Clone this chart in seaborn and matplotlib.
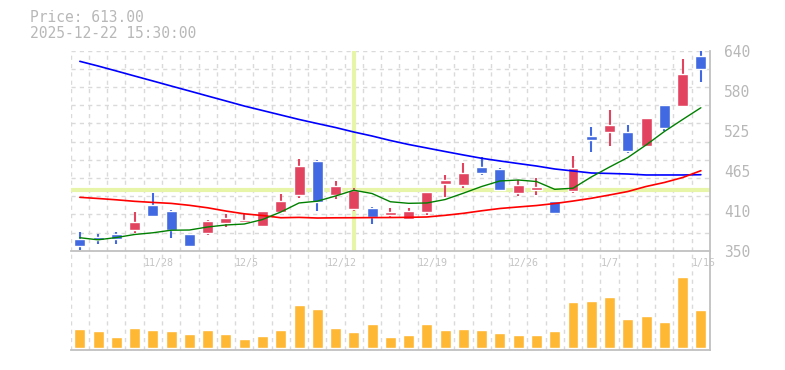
import matplotlib
matplotlib.use('Agg')
import matplotlib.pyplot as plt
import seaborn as sns
import numpy as np
import pandas as pd

# 日付（営業日）
dates = ['11/21', '11/25', '11/26', '11/27', '11/28',
         '12/1', '12/2', '12/3', '12/4', '12/5',
         '12/8', '12/9', '12/10', '12/11', '12/12',
         '12/15', '12/16', '12/17', '12/18', '12/19',
         '12/22', '12/23', '12/24', '12/25', '12/26',
         '12/29', '12/30', '1/5', '1/6', '1/7',
         '1/8', '1/9', '1/13', '1/14', '1/15']

# 四本値
open_p = [367, 370, 374, 380, 416, 407.5, 374, 376, 390, 391.5,
          386, 406, 431, 480, 431, 410.5, 412, 402, 396.5, 406,
          446.5, 445, 471.5, 468.5, 433.5, 438, 422, 436.5, 516.5, 522,
          522, 502, 561.5, 560.5, 632.5]
high_p = [377, 374, 377, 406, 434, 409, 374, 394.5, 403, 403,
          407.5, 432, 483, 481.5, 451, 441, 413.5, 412, 412, 435,
          460, 477, 486, 470, 452.5, 455.5, 422, 487, 529.5, 554,
          532.5, 542.5, 561.5, 628, 641]
low_p = [351, 360, 360, 376, 401, 369, 357, 373, 385, 390,
         384.5, 406, 426.5, 408, 425, 407.5, 389, 399, 395, 402,
         428, 441, 460, 436.5, 429, 431, 403, 433.5, 493, 502,
         491.5, 500.5, 523.5, 560.5, 595]
close_p = [357, 365.5, 367, 391.5, 401, 380.5, 357, 393, 397.5, 394.5,
           407.5, 422, 473, 421, 444, 438, 399.5, 406, 407.5, 435,
           452.5, 463, 463, 438, 445, 442.5, 404.5, 470, 511, 532.5,
           494.5, 542.5, 528, 606, 613]

# 出来高
volume = [190, 170, 110, 200, 180, 170, 140, 180, 140, 90,
          120, 180, 430, 390, 200, 160, 240, 110, 130, 240,
          180, 190, 180, 150, 130, 130, 170, 460, 470, 510,
          290, 320, 260, 710, 380]

# 移動平均線（短期・中期・長期）
ma_short = [368.8, 365.8, 369.1, 373.5, 376.0, 379.7, 380.0, 384.4, 387.3, 388.7,
            395.2, 406.1, 419.2, 421.8, 429.3, 437.7, 432.9, 421.0, 418.7, 419.2,
            424.2, 433.4, 443.1, 451.1, 452.5, 450.3, 439.0, 440.6, 456.9, 471.3,
            485.1, 503.3, 522.8, 540.2, 557.3]
ma_mid = [427.4, 425.7, 423.8, 421.6, 420.0, 418.6, 415.8, 412.2, 407.5, 403.5,
          401.0, 397.8, 398.3, 397.4, 397.7, 397.8, 398.0, 398.1, 398.4, 398.9,
          401.3, 404.2, 407.9, 411.2, 413.4, 415.5, 418.4, 422.0, 426.0, 430.8,
          435.8, 443.1, 448.9, 456.1, 466.0]
ma_long = [624.6, 617.8, 610.6, 603.3, 596.1, 588.8, 581.6, 574.3, 567.1, 559.8,
           553.3, 546.8, 540.3, 534.4, 528.6, 522.1, 516.3, 509.8, 504.0, 498.9,
           493.8, 488.8, 484.0, 480.1, 476.4, 472.8, 468.5, 465.6, 462.7, 462.0,
           461.2, 459.8, 459.8, 459.8, 460.2]

price_labels = ['350', '410', '465', '525', '580', '640']
label_days = ['11/28', '12/5', '12/12', '12/19', '12/26', '1/7', '1/15']
cross_day = '12/15'
cross_price = 437.6
info_lines = ['Price: 613.00', '2025-12-22 15:30:00']

df = pd.DataFrame({'date': dates, 'open': open_p, 'high': high_p, 'low': low_p,
                   'close': close_p, 'volume': volume,
                   'ma_short': ma_short, 'ma_mid': ma_mid, 'ma_long': ma_long})
df['pos'] = np.arange(len(df))
df['color'] = np.where(df['close'] >= df['open'], '#e2435f', '#4169e1')

sns.set_style('white')
plt.rcParams['font.family'] = ['DejaVu Sans Mono']

W, H = 785, 370
fig = plt.figure(figsize=(W / 100, H / 100), dpi=100)
ax = fig.add_axes([70.7 / W, 1 - 250.7 / H, (710 - 70.7) / W, 200 / H])
axv = fig.add_axes([70.7 / W, 1 - 350 / H, (710 - 70.7) / W, 99 / H])

grid_kw = dict(color='#dadada', lw=1, ls=(0, (3, 3)), zorder=0)
n = len(df)
for a in (ax, axv):
    for x in np.arange(n) - 0.5:
        a.axvline(x, **grid_kw)
for y in np.linspace(350, 640, 12)[1:]:
    ax.axhline(y, **grid_kw)

# クロスヘア
cross_pos = dates.index(cross_day)
ax.axvline(cross_pos, color='#e6f5a8', lw=3, zorder=1)
ax.axhline(cross_price, color='#e6f5a8', lw=3, zorder=1)

# ローソク足
ax.vlines(df['pos'], df['low'], df['high'], colors=df['color'], lw=1.5, zorder=2)
body_lo = np.minimum(df['open'], df['close'])
body_h = np.maximum((df['close'] - df['open']).abs(), 1.2)
ax.bar(df['pos'], body_h, bottom=body_lo, width=0.6, color=df['color'], zorder=3)

# 移動平均線
sns.lineplot(x='pos', y='ma_long', data=df, ax=ax, color='#0000ff', lw=1.2, zorder=4)
sns.lineplot(x='pos', y='ma_mid', data=df, ax=ax, color='#ff0000', lw=1.2, zorder=4)
sns.lineplot(x='pos', y='ma_short', data=df, ax=ax, color='#008000', lw=1.0, zorder=4)

ax.set_xlim(-0.5, n - 0.5)
ax.set_ylim(350, 640)
ax.set_xlabel('')
ax.set_ylabel('')
ax.yaxis.tick_right()
ax.set_yticks(np.linspace(350, 640, 6))
ax.set_yticklabels(price_labels)
ax.tick_params(axis='y', length=0, pad=10, labelsize=10.5, labelcolor='#b8b8b8')
ax.set_xticks([dates.index(d) - 0.5 for d in label_days])
ax.set_xticklabels(label_days, ha='left')
ax.tick_params(axis='x', length=0, pad=5, labelsize=7.2, labelcolor='#c4c4c4')
for s in ('left', 'top'):
    ax.spines[s].set_visible(False)
for s in ('bottom', 'right'):
    ax.spines[s].set_color('#c0c0c0')
    ax.spines[s].set_linewidth(1.3)

# 出来高
sns.barplot(x='pos', y='volume', data=df, ax=axv, color='#ffb833',
            saturation=1, width=0.6, zorder=2)
axv.set_xlim(-0.5, n - 0.5)
axv.set_ylim(-23, 967)
axv.set_xlabel('')
axv.set_ylabel('')
axv.set_xticks([])
axv.set_yticks([])
for s in ('left', 'top'):
    axv.spines[s].set_visible(False)
for s in ('bottom', 'right'):
    axv.spines[s].set_color('#c0c0c0')
    axv.spines[s].set_linewidth(1.3)
axv.patch.set_alpha(0)

fig.text(30 / W, 1 - 18 / H, info_lines[0], va='center', fontsize=10.5, color='#b8b8b8')
fig.text(30 / W, 1 - 33 / H, info_lines[1], va='center', fontsize=10.5, color='#b8b8b8')

fig.savefig('out.png', dpi=100)
